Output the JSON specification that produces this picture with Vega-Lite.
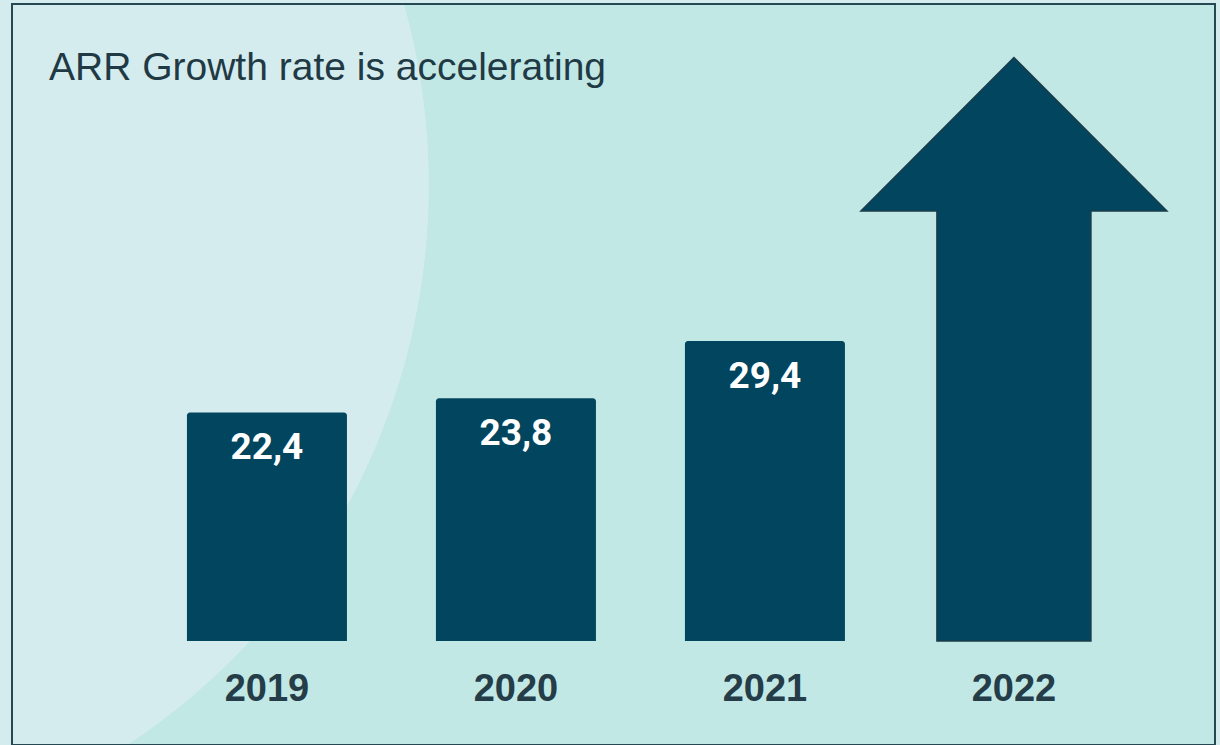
{
  "$schema": "https://vega.github.io/schema/vega-lite/v6.json",
  "autosize": {"type": "none"},
  "padding": {"left": 12, "top": 4, "right": 5, "bottom": 0},
  "width": 1203,
  "height": 741,
  "background": "#d5ecee",
  "title": {
    "text": "ARR Growth rate is accelerating",
    "anchor": "start",
    "frame": "group",
    "orient": "top",
    "offset": 0,
    "dx": 37,
    "dy": 115,
    "baseline": "alphabetic",
    "font": "Liberation Sans",
    "fontSize": 39,
    "fontWeight": "normal",
    "color": "#1f3a45"
  },
  "datasets": {
    "bars": [
      {"year": "2019", "arr": 22.4},
      {"year": "2020", "arr": 23.8},
      {"year": "2021", "arr": 29.4}
    ],
    "arrow": [
      {"year": "2022", "head_base": 42.16}
    ]
  },
  "encoding": {
    "x": {
      "field": "year",
      "type": "nominal",
      "sort": "ascending",
      "scale": {"paddingInner": 0.3574, "paddingOuter": 0.5944, "align": 0.591},
      "axis": {
        "title": null,
        "orient": "bottom",
        "offset": -104,
        "domain": false,
        "ticks": false,
        "labelAngle": 0,
        "labelPadding": 48,
        "labelBaseline": "middle",
        "labelFont": "Liberation Sans",
        "labelFontSize": 38,
        "labelFontWeight": "bold",
        "labelColor": "#243d48"
      }
    }
  },
  "layer": [
    {
      "data": {"name": "bars"},
      "mark": {"type": "bar", "color": "#01455f", "cornerRadiusTopLeft": 3, "cornerRadiusTopRight": 3},
      "encoding": {
        "y": {"field": "arr", "type": "quantitative", "scale": {"domain": [-10.2, 62.45], "nice": false, "zero": false}, "axis": null},
        "y2": {"datum": 0}
      }
    },
    {
      "data": {"name": "bars"},
      "mark": {"type": "text", "baseline": "middle", "dy": 36, "font": "Roboto", "fontSize": 37, "fontWeight": "bold", "color": "#ffffff"},
      "encoding": {
        "y": {"field": "arr", "type": "quantitative"},
        "text": {"field": "arr", "type": "quantitative", "format": ".1f"}
      }
    },
    {
      "data": {"name": "arrow"},
      "mark": {"type": "bar", "color": "#01455f", "stroke": "#1b3c4a", "strokeWidth": 1.5, "width": {"band": 0.9625}, "yOffset": -6},
      "encoding": {
        "y": {"field": "head_base", "type": "quantitative"},
        "y2": {"datum": 0}
      }
    },
    {
      "data": {"name": "arrow"},
      "mark": {
        "type": "point",
        "shape": "M-0.503,0L-1,0L0,-1.003L1,0L0.503,0",
        "size": 93636,
        "filled": true,
        "fill": "#01455f",
        "stroke": "#1b3c4a",
        "strokeWidth": 1.5,
        "opacity": 1
      },
      "encoding": {
        "y": {"field": "head_base", "type": "quantitative"}
      }
    }
  ],
  "config": {
    "locale": {"number": {"decimal": ",", "thousands": ".", "grouping": [3], "currency": ["", " €"]}},
    "view": {
      "stroke": "#264853",
      "strokeWidth": 2,
      "fill": {
        "gradient": "radial",
        "x1": -0.2111, "y1": 0.3425, "r1": 0,
        "x2": -0.2111, "y2": 0.3425, "r2": 0.5578,
        "stops": [
          {"offset": 0, "color": "#d5ecee"},
          {"offset": 0.999, "color": "#d5ecee"},
          {"offset": 1, "color": "#c2e8e6"}
        ]
      }
    }
  }
}
